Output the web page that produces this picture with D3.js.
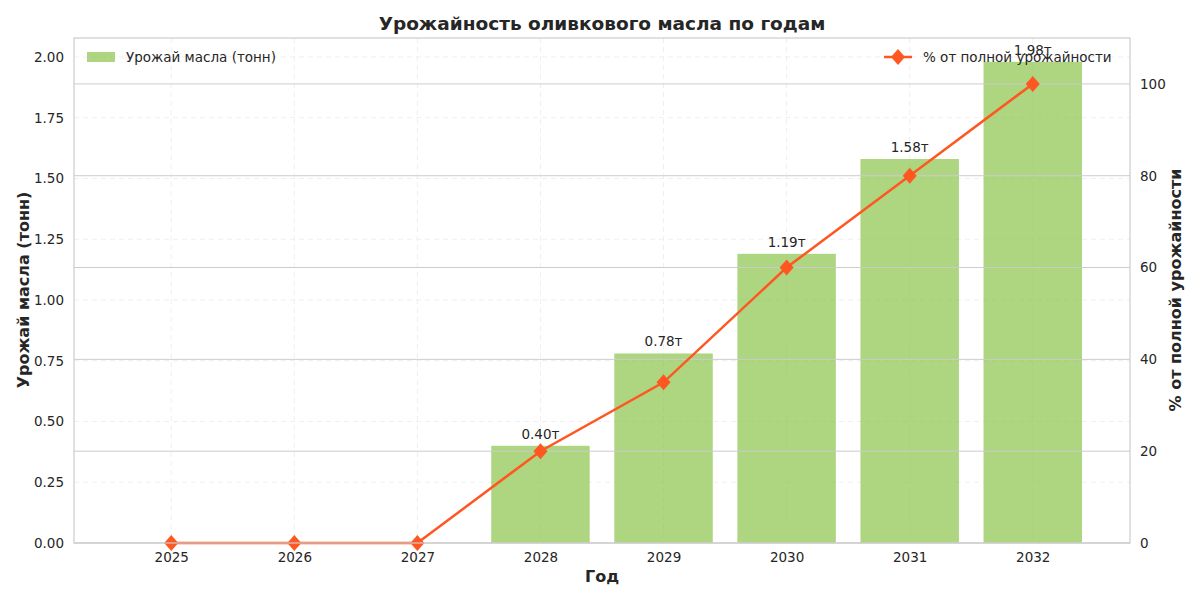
<!DOCTYPE html>
<html><head><meta charset="utf-8">
<script src="https://cdn.jsdelivr.net/npm/d3@7"></script>
<style>body{margin:0;background:#fff;font-family:"DejaVu Sans",sans-serif}</style>
</head><body>
<svg id="chart" width="1200" height="600"></svg>
<script>
// data
const years = [2025, 2026, 2027, 2028, 2029, 2030, 2031, 2032];
const yieldTons = [0, 0, 0, 0.40, 0.78, 1.19, 1.58, 1.98];
const percentFull = [0, 0, 0, 20, 35, 60, 80, 100];
const leftTicks = [0, 0.25, 0.5, 0.75, 1.0, 1.25, 1.5, 1.75, 2.0];
const rightTicks = [0, 20, 40, 60, 80, 100];

var m = {left: 74, right: 1130, top: 38, bottom: 543};
var svg = d3.select("#chart");

var x = d3.scaleLinear().domain([2024.21, 2032.79]).range([m.left, m.right]);
var yL = d3.scaleLinear().domain([0, 2.078]).range([m.bottom, m.top]);
var yR = d3.scaleLinear().domain([0, 110]).range([m.bottom, m.top]);
var barW = (x(1) - x(0)) * 0.8;

// grids
svg.append("g").selectAll("line").data(years).enter().append("line")
  .attr("x1", d => x(d)).attr("x2", d => x(d)).attr("y1", m.top).attr("y2", m.bottom)
  .attr("stroke", "#efefef").attr("stroke-dasharray", "5,4");
svg.append("g").selectAll("line").data(leftTicks).enter().append("line")
  .attr("x1", m.left).attr("x2", m.right).attr("y1", d => yL(d)).attr("y2", d => yL(d))
  .attr("stroke", "#efefef").attr("stroke-dasharray", "5,4");

// bars
svg.append("g").selectAll("rect").data(years).enter().append("rect")
  .attr("x", d => x(d) - barW / 2).attr("width", barW)
  .attr("y", (d, i) => yL(yieldTons[i])).attr("height", (d, i) => m.bottom - yL(yieldTons[i]))
  .attr("fill", "#8bc34a").attr("fill-opacity", 0.7);

// right grid (solid, drawn over bars)
svg.append("g").selectAll("line").data(rightTicks).enter().append("line")
  .attr("x1", m.left).attr("x2", m.right).attr("y1", d => yR(d)).attr("y2", d => yR(d))
  .attr("stroke", "#cccccc");

// bar labels
svg.append("g").selectAll("text").data(years.filter((d, i) => yieldTons[i] > 0)).enter().append("text")
  .attr("x", d => x(d)).attr("y", d => yL(yieldTons[years.indexOf(d)]) - 7)
  .attr("text-anchor", "middle").attr("font-size", 13.5).attr("fill", "#262626")
  .text(d => yieldTons[years.indexOf(d)].toFixed(2) + "т");

// line
var line = d3.line().x((d, i) => x(years[i])).y(d => yR(d));
svg.append("path").datum(percentFull).attr("d", line)
  .attr("fill", "none").attr("stroke", "#ff5722").attr("stroke-width", 2.5);
var diamond = "M0,-8L7,0L0,8L-7,0Z";
svg.append("g").selectAll("path").data(percentFull).enter().append("path")
  .attr("d", diamond)
  .attr("transform", (d, i) => "translate(" + x(years[i]) + "," + yR(d) + ")")
  .attr("fill", "#ff5722");

// frame
svg.append("rect").attr("x", m.left).attr("y", m.top).attr("width", m.right - m.left)
  .attr("height", m.bottom - m.top).attr("fill", "none").attr("stroke", "#cccccc").attr("stroke-width", 1.2);

// axes
function style(g) {
  g.select(".domain").remove();
  g.selectAll(".tick line").remove();
  g.selectAll("text").attr("font-size", 13.5).attr("fill", "#262626").attr("font-family", "DejaVu Sans");
}
svg.append("g").attr("transform", "translate(0," + m.bottom + ")")
  .call(d3.axisBottom(x).tickValues(years).tickFormat(d3.format("d")).tickPadding(3)).call(style);
svg.append("g").attr("transform", "translate(" + m.left + ",0)")
  .call(d3.axisLeft(yL).tickValues(leftTicks).tickFormat(d3.format(".2f")).tickPadding(4)).call(style);
svg.append("g").attr("transform", "translate(" + m.right + ",0)")
  .call(d3.axisRight(yR).tickValues(rightTicks).tickPadding(4)).call(style);

// titles
svg.append("text").attr("x", 602).attr("y", 30).attr("text-anchor", "middle")
  .attr("font-size", 18.5).attr("font-weight", "bold").attr("fill", "#262626")
  .text("Урожайность оливкового масла по годам");
svg.append("text").attr("x", 602).attr("y", 582).attr("text-anchor", "middle")
  .attr("font-size", 16).attr("font-weight", "bold").attr("fill", "#262626").text("Год");
svg.append("text").attr("transform", "translate(29,290) rotate(-90)").attr("text-anchor", "middle")
  .attr("font-size", 16).attr("font-weight", "bold").attr("fill", "#262626").text("Урожай масла (тонн)");
svg.append("text").attr("transform", "translate(1181,290) rotate(-90)").attr("text-anchor", "middle")
  .attr("font-size", 16).attr("font-weight", "bold").attr("fill", "#262626").text("% от полной урожайности");

// legends
svg.append("rect").attr("x", 87).attr("y", 52).attr("width", 28).attr("height", 10)
  .attr("fill", "#8bc34a").attr("fill-opacity", 0.7);
svg.append("text").attr("x", 126).attr("y", 62).attr("font-size", 13.5).attr("fill", "#262626")
  .text("Урожай масла (тонн)");
svg.append("line").attr("x1", 884).attr("x2", 912).attr("y1", 57).attr("y2", 57)
  .attr("stroke", "#ff5722").attr("stroke-width", 2.5);
svg.append("path").attr("d", diamond)
  .attr("transform", "translate(898,57)").attr("fill", "#ff5722");
svg.append("text").attr("x", 923).attr("y", 62).attr("font-size", 13.5).attr("fill", "#262626")
  .text("% от полной урожайности");
</script>
</body></html>
